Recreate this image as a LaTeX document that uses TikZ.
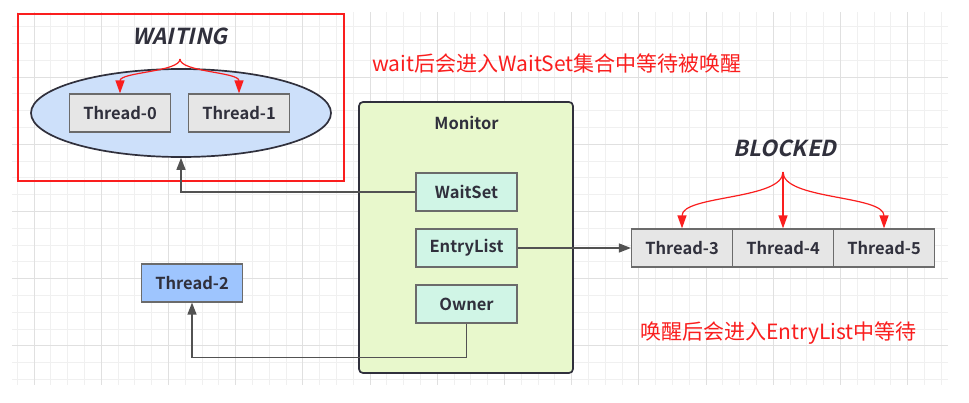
\documentclass[tikz,border=0pt]{standalone}
\usepackage{fontspec}
\setmainfont{Noto Sans CJK SC}[BoldFont={Noto Sans CJK SC Bold}]
\newfontfamily\statefont{Noto Sans CJK SC Bold}[FakeSlant=0.22]
\usetikzlibrary{shapes.geometric,arrows.meta}

\definecolor{ink}{RGB}{48,48,60}
\definecolor{gridminor}{RGB}{240,240,240}
\definecolor{gridmajor}{RGB}{224,224,224}
\definecolor{threadgray}{RGB}{230,230,230}
\definecolor{waitblue}{RGB}{205,224,250}
\definecolor{monitorgreen}{RGB}{232,248,204}
\definecolor{slotmint}{RGB}{208,245,230}
\definecolor{ownerblue}{RGB}{158,197,254}
\definecolor{alertred}{RGB}{250,30,30}

\begin{document}
\begin{tikzpicture}[x=1pt,y=-1pt,
  thread/.style={draw=black!58, line width=1.2pt, fill=threadgray, minimum width=101pt, minimum height=38pt, inner sep=0pt, text=ink, font=\bfseries\fontsize{16.5}{18}\selectfont},
  slot/.style={thread, fill=slotmint},
  waitset/.style={ellipse, draw=ink, line width=1.7pt, fill=waitblue, minimum width=300pt, minimum height=88pt, inner sep=0pt},
  monitor/.style={draw=ink, line width=1.7pt, fill=monitorgreen, rounded corners=4pt, minimum width=214pt, minimum height=271pt, inner sep=0pt},
  title/.style={text=ink, font=\bfseries\fontsize{16.5}{18}\selectfont, inner sep=0pt},
  state/.style={text=ink, font=\statefont\fontsize{22}{24}\selectfont, inner sep=0pt},
  note/.style={text=alertred, font=\fontsize{21}{23}\selectfont, inner sep=0pt, anchor=west},
  conn/.style={draw=black!68, line width=1.3pt, -{Triangle[width=9pt,length=12pt]}},
  redarrow/.style={draw=alertred, line width=1.2pt, -{Triangle[width=9pt,length=13pt]}}]

\useasboundingbox (0,0) rectangle (969,402);
\fill[white] (0,0) rectangle (969,402);

\foreach \k in {0,...,55}
  \draw[gridminor, line width=1pt] ({17.2+16.8*\k},12) -- ({17.2+16.8*\k},385);
\foreach \k in {0,...,21}
  \draw[gridminor, line width=1pt] (12,{26.6+16.8*\k}) -- (948,{26.6+16.8*\k});
\foreach \k in {1,5,...,53}
  \draw[gridmajor, line width=1pt] ({17.2+16.8*\k},12) -- ({17.2+16.8*\k},385);
\foreach \k in {3,7,...,19}
  \draw[gridmajor, line width=1pt] (12,{26.6+16.8*\k}) -- (948,{26.6+16.8*\k});

\draw[alertred, line width=2.2pt] (18,14) rectangle (344,181);

\node[state] (waitlabel) at (180,36) {WAITING};
\node[waitset] (waiting) at (181,113) {};
\node[thread] (t0) at (120,113) {Thread-0};
\node[thread] (t1) at (239,113) {Thread-1};
\coordinate (waitfork) at (180,59);

\draw[redarrow] (waitfork) .. controls (180,72) and (120,72) .. (t0.north);
\draw[redarrow] (waitfork) .. controls (180,72) and (239,72) .. (t1.north);

\node[monitor] (monitor) at (466,237.5) {};
\node[title] (montitle) at (466.5,123) {Monitor};
\node[slot] (waitslot) at (466.5,192) {WaitSet};
\node[slot] (entryslot) at (466.5,248) {EntryList};
\node[slot] (ownerslot) at (466.5,304) {Owner};

\node[state] (blocklabel) at (785,148) {BLOCKED};
\node[thread] (t3) at (682,248) {Thread-3};
\node[thread] (t4) at (783,248) {Thread-4};
\node[thread] (t5) at (884,248) {Thread-5};
\coordinate (blockfork) at (783,172);

\draw[redarrow] (blockfork) .. controls (783,200) and (682,195) .. (t3.north);
\draw[redarrow] (blockfork) -- (t4.north);
\draw[redarrow] (blockfork) .. controls (783,200) and (884,195) .. (t5.north);

\node[thread, fill=ownerblue] (t2) at (192,283) {Thread-2};

\draw[conn] (waitslot.west) -| (waiting.south);
\draw[conn] (entryslot.east) -- (t3.west);
\draw[conn] (ownerslot.south) -- ++(0,34) -| (t2.south);

\node[note] (waitnote) at (372,63) {wait后会进入WaitSet集合中等待被唤醒};
\node[note] (entrynote) at (640,333) {唤醒后会进入EntryList中等待};

\end{tikzpicture}
\end{document}
